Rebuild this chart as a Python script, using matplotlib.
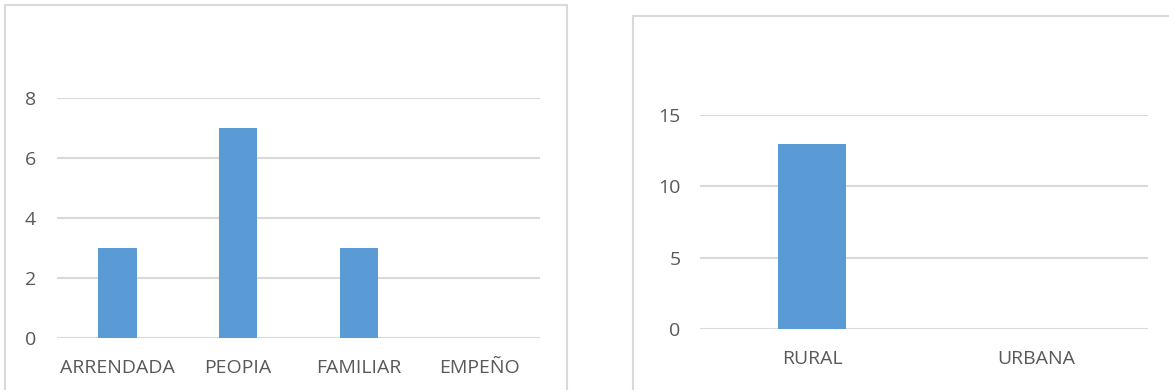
import matplotlib
matplotlib.use("Agg")
import matplotlib.pyplot as plt
from matplotlib.patches import Rectangle

# tenencia de la vivienda
tenencia = ["ARRENDADA", "PEOPIA", "FAMILIAR", "EMPEÑO"]
tenencia_n = [3, 7, 3, 0]
tenencia_ticks = [0, 2, 4, 6, 8]

# zona
zona = ["RURAL", "URBANA"]
zona_n = [13, 0]
zona_ticks = [0, 5, 10, 15]

W, H = 1169, 390
BAR = "#5b9bd5"
GRID = "#d9d9d9"
TXT = "#595959"

plt.rcParams["font.family"] = ["Open Sans", "DejaVu Sans"]

fig = plt.figure(figsize=(W / 100, H / 100), dpi=100)


def px_axes(x0, x1, ytop, ybot):
    return fig.add_axes([x0 / W, (H - ybot) / H, (x1 - x0) / W, (ybot - ytop) / H])


def style(ax, ticks, ypad, xpad):
    ax.set_ylim(ticks[0], ticks[-1])
    ax.set_yticks(ticks)
    for t in ticks:
        ax.axhline(t, color=GRID, lw=1.5, zorder=0)
    for s in ax.spines.values():
        s.set_visible(False)
    ax.tick_params(axis="both", length=0, labelsize=14, labelcolor=TXT)
    ax.tick_params(axis="y", pad=ypad)
    ax.tick_params(axis="x", pad=xpad)


# chart frames
fig.add_artist(Rectangle((5 / W, -0.1), 562 / W, 1.1 - 5 / H, transform=fig.transFigure,
                         fill=False, edgecolor=GRID, lw=1.5))
fig.add_artist(Rectangle((633 / W, -0.1), 0.5, 1.1 - 16 / H, transform=fig.transFigure,
                         fill=False, edgecolor=GRID, lw=1.5))

ax1 = px_axes(57, 540, 98, 338)
ax1.bar(range(len(tenencia)), tenencia_n, width=0.32, color=BAR, zorder=2)
ax1.set_xlim(-0.5, len(tenencia) - 0.5)
ax1.set_xticks(range(len(tenencia)))
ax1.set_xticklabels(tenencia)
style(ax1, tenencia_ticks, 15, 15)

ax2 = px_axes(700, 1148, 115, 329)
ax2.bar(range(len(zona)), zona_n, width=0.30, color=BAR, zorder=2)
ax2.set_xlim(-0.5, len(zona) - 0.5)
ax2.set_xticks(range(len(zona)))
ax2.set_xticklabels(zona)
style(ax2, zona_ticks, 14, 15)

fig.savefig("out.png", dpi=100)
